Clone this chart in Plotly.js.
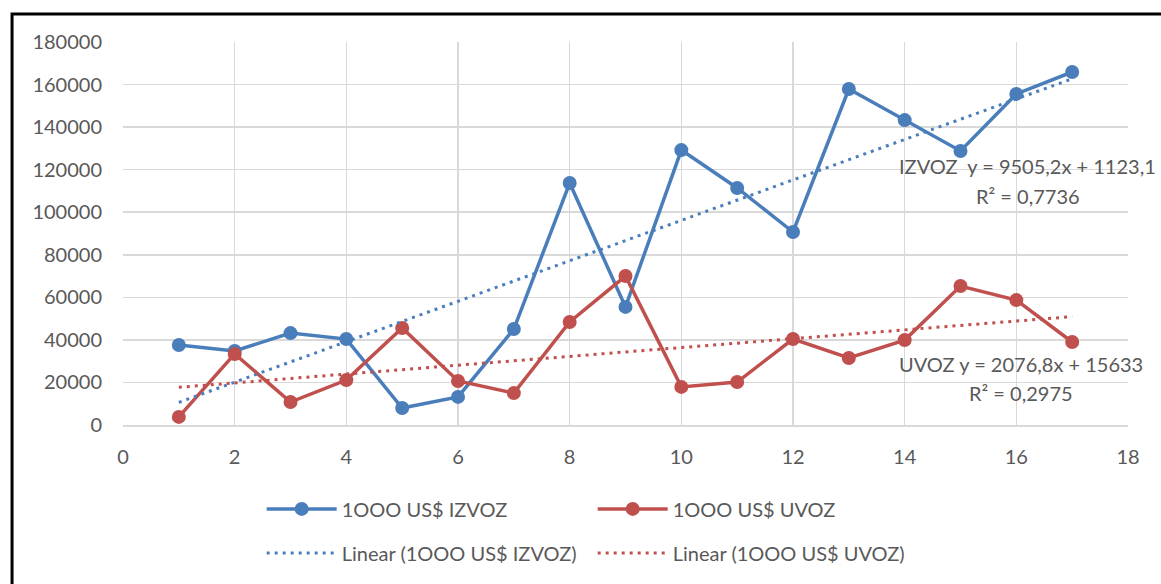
<!DOCTYPE html>
<html><head><meta charset="utf-8">
<script src="https://cdn.plot.ly/plotly-3.0.1.min.js"></script>
<style>html,body{margin:0;padding:0;background:#fff;}#chart{width:1161px;height:584px;}</style>
</head><body><div id="chart"></div>
<script>
const periods = [1,2,3,4,5,6,7,8,9,10,11,12,13,14,15,16,17];
const izvoz = [37600,34800,43200,40400,8000,13200,45100,113700,55500,129200,111400,90700,157900,143300,128800,155600,165900];
const uvoz  = [3800,33400,10800,21100,45600,20700,15000,48400,70000,17900,20200,40400,31500,39900,65300,58700,39000];
const izvozTrend = {slope: 9505.2, intercept: 1123.1};
const uvozTrend  = {slope: 2076.8, intercept: 15633};
const seriesNames = ["1OOO US$ IZVOZ", "1OOO US$ UVOZ", "Linear (1OOO US$ IZVOZ)", "Linear (1OOO US$ UVOZ)"];
const eqIzvoz = ["IZVOZ  y = 9505,2x + 1123,1", "R² = 0,7736"];
const eqUvoz  = ["UVOZ y = 2076,8x + 15633", "R² = 0,2975"];

const blue = "#4a7ebb", red = "#c0504d";
const xEnds = [periods[0], periods[periods.length-1]];
const FONT = "Lato, 'Open Sans', sans-serif";
const TXT = "#595959";

const traces = [
  {x: periods, y: izvoz, name: seriesNames[0], mode: "lines+markers", line:{color:blue,width:3.5}, marker:{size:14,color:blue}, legend:"legend"},
  {x: periods, y: uvoz, name: seriesNames[1], mode: "lines+markers", line:{color:red,width:3.5}, marker:{size:14,color:red}, legend:"legend"},
  {x: xEnds, y: xEnds.map(v=>izvozTrend.slope*v+izvozTrend.intercept), name: seriesNames[2], mode:"lines", line:{color:blue,width:3,dash:"3px,5px"}, legend:"legend2"},
  {x: xEnds, y: xEnds.map(v=>uvozTrend.slope*v+uvozTrend.intercept), name: seriesNames[3], mode:"lines", line:{color:red,width:3,dash:"3px,5px"}, legend:"legend2"}
];

const legendCommon = {orientation:"h", xanchor:"left", yanchor:"middle", entrywidth:246, entrywidthmode:"pixels", itemwidth:70, font:{family:FONT,size:20,color:TXT}, bgcolor:"rgba(0,0,0,0)"};

const layout = {
  width:1161, height:584,
  margin:{l:123,r:33,t:42,b:159},
  paper_bgcolor:"#fff", plot_bgcolor:"#fff",
  font:{family:FONT,size:20,color:TXT},
  showlegend:true,
  xaxis:{range:[0,18], dtick:2, tick0:0, showgrid:true, gridcolor:"#d9d9d9", gridwidth:1.5, zeroline:false, showline:true, linecolor:"#d9d9d9", linewidth:1.5, mirror:false, ticks:"", ticklabelstandoff:13, tickfont:{family:FONT,size:20,color:TXT}},
  yaxis:{range:[0,180000], dtick:20000, tick0:0, tickformat:"d", showgrid:true, gridcolor:"#d9d9d9", gridwidth:1.5, zeroline:false, showline:false, ticks:"", ticklabelstandoff:20, tickfont:{family:FONT,size:20,color:TXT}},
  legend: Object.assign({}, legendCommon, {x:0.138, y:-0.219}),
  legend2: Object.assign({}, legendCommon, {x:0.138, y:-0.334}),
  annotations:[
    {xref:"x",yref:"y",x:16.2,y:121700,text:eqIzvoz[0],showarrow:false,font:{family:FONT,size:20,color:TXT}},
    {xref:"x",yref:"y",x:16.2,y:107600,text:eqIzvoz[1],showarrow:false,font:{family:FONT,size:20,color:TXT}},
    {xref:"x",yref:"y",x:16.08,y:28700,text:eqUvoz[0],showarrow:false,font:{family:FONT,size:20,color:TXT}},
    {xref:"x",yref:"y",x:16.08,y:15000,text:eqUvoz[1],showarrow:false,font:{family:FONT,size:20,color:TXT}}
  ],
  shapes:[
    {type:"rect", xref:"paper", yref:"paper", x0:-0.1104, x1:1.2, y0:-0.6, y1:1.0731, line:{color:"#000",width:3}, fillcolor:"rgba(0,0,0,0)"}
  ]
};
Plotly.newPlot("chart", traces, layout, {displayModeBar:false, staticPlot:true});
</script></body></html>
